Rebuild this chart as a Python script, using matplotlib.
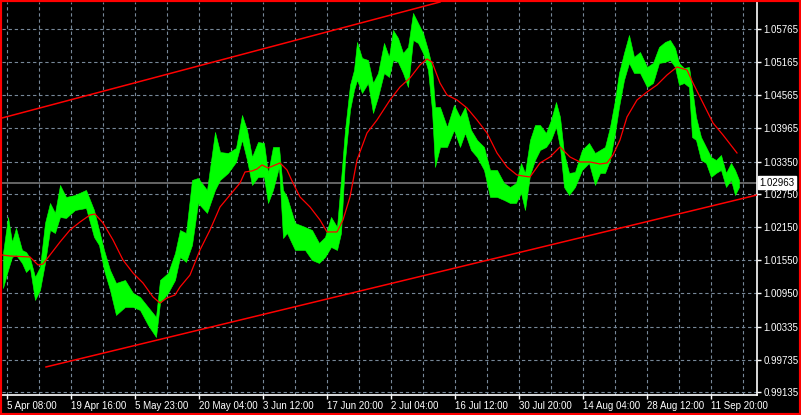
import matplotlib.pyplot as plt
from matplotlib.patches import Rectangle
from matplotlib.ticker import FixedLocator

# bar index (1 bar per pixel) with high / low prices
bars = [1, 6, 10, 14, 20, 24, 28, 33, 38, 43, 48, 53, 58, 64, 73, 84, 92, 97, 102, 108,
        114, 123, 131, 138, 146, 154, 158, 166, 173, 178, 184, 190, 196, 205, 213, 218, 226, 234, 240, 245,
        250, 256, 262, 266, 271, 277, 281, 285, 293, 303, 310, 317, 323, 329, 335, 339, 343, 348, 352, 355,
        360, 366, 371, 376, 382, 387, 391, 396, 401, 406, 411, 416, 421, 426, 430, 433, 438, 445, 452, 458,
        463, 469, 475, 482, 488, 495, 502, 508, 514, 519, 523, 528, 533, 538, 544, 549, 554, 558, 562, 567,
        573, 580, 587, 593, 598, 603, 608, 613, 617, 622, 627, 632, 638, 645, 651, 657, 663, 668, 673, 677,
        682, 687, 690, 694, 699, 704, 709, 714, 719, 724, 729, 733, 737]
highs = [1.01680, 1.02338, 1.01881, 1.02137, 1.01735, 1.01698, 1.01589, 1.01242, 1.01425, 1.02228,
         1.02593, 1.02411, 1.02922, 1.02703, 1.02739, 1.02831, 1.02465, 1.02100, 1.01735, 1.01370,
         1.01132, 1.01187, 1.00950, 1.00877, 1.00694, 1.00512, 1.01187, 1.01315, 1.01680, 1.02100,
         1.02045, 1.03013, 1.03050, 1.02831, 1.03890, 1.03524, 1.03506, 1.03598, 1.04200, 1.03926,
         1.03433, 1.03707, 1.03689, 1.03141, 1.03616, 1.03616, 1.02831, 1.02703, 1.02228, 1.02155,
         1.02100, 1.01863, 1.01972, 1.02338, 1.02155, 1.03013, 1.03926, 1.04748, 1.05022, 1.05533,
         1.05241, 1.05204, 1.04784, 1.04967, 1.05515, 1.05259, 1.05752, 1.05606, 1.05332, 1.05442,
         1.06063, 1.05880, 1.05697, 1.05387, 1.05077, 1.04346, 1.04346, 1.03981, 1.04383, 1.04164,
         1.04346, 1.03926, 1.03744, 1.03616, 1.03196, 1.03196, 1.02958, 1.02885, 1.02958, 1.03324,
         1.03141, 1.03744, 1.04017, 1.04017, 1.03871, 1.04109, 1.04437, 1.04164, 1.03506, 1.03141,
         1.03159, 1.03561, 1.03689, 1.03506, 1.03561, 1.03616, 1.03981, 1.04474, 1.04967, 1.05332,
         1.05661, 1.05259, 1.05350, 1.05077, 1.05150, 1.05442, 1.05533, 1.05570, 1.05424, 1.05150,
         1.05058, 1.05077, 1.04711, 1.04164, 1.03798, 1.03616, 1.03433, 1.03378, 1.03470, 1.03141,
         1.03324, 1.03196, 1.03013]
lows = [1.01041, 1.01370, 1.01607, 1.01644, 1.01498, 1.01333, 1.01406, 1.00822, 1.01005, 1.01498,
        1.02100, 1.02045, 1.02338, 1.02319, 1.02465, 1.02502, 1.01972, 1.01826, 1.01370, 1.01005,
        1.00548, 1.00694, 1.00694, 1.00639, 1.00365, 1.00146, 1.00767, 1.00950, 1.01187, 1.01607,
        1.01516, 1.01826, 1.02593, 1.02411, 1.02831, 1.03013, 1.03141, 1.03342, 1.03744, 1.03378,
        1.02922, 1.03068, 1.03068, 1.02593, 1.02831, 1.03251, 1.01954, 1.02045, 1.01735, 1.01735,
        1.01552, 1.01498, 1.01607, 1.01790, 1.01735, 1.02045, 1.03378, 1.04291, 1.04657, 1.04839,
        1.04602, 1.04784, 1.04237, 1.04529, 1.04967, 1.04894, 1.05204, 1.05168, 1.04967, 1.04711,
        1.05570, 1.05515, 1.05332, 1.05022, 1.04291, 1.03251, 1.03616, 1.03616, 1.03926, 1.03616,
        1.03871, 1.03561, 1.03433, 1.03196, 1.02703, 1.02703, 1.02648, 1.02593, 1.02593, 1.02776,
        1.02465, 1.03104, 1.03378, 1.03561, 1.03616, 1.03744, 1.03981, 1.03616, 1.02885, 1.02739,
        1.02885, 1.03196, 1.03324, 1.02922, 1.03141, 1.03141, 1.03378, 1.03871, 1.04346, 1.04839,
        1.05150, 1.04967, 1.04967, 1.04711, 1.04784, 1.05150, 1.05168, 1.05204, 1.05077, 1.04748,
        1.04784, 1.04711, 1.03798, 1.03744, 1.03378, 1.03324, 1.03068, 1.03141, 1.03196, 1.02885,
        1.03013, 1.02739, 1.02885]

# moving average (red)
ma_bars = [0, 8, 28, 36, 41, 48, 58, 68, 78, 88, 93, 101, 111, 121, 131, 141, 151, 158, 165, 173,
           178, 188, 198, 208, 218, 228, 238, 243, 250, 255, 260, 266, 278, 285, 291, 298, 308, 318, 325, 335,
           341, 348, 355, 365, 375, 388, 398, 408, 418, 425, 430, 438, 445, 455, 465, 475, 485, 495, 505, 515,
           521, 528, 538, 548, 558, 568, 578, 588, 598, 605, 611, 618, 625, 635, 645, 655, 665, 675, 685, 691,
           701, 711, 721, 735]
ma_vals = [1.01644, 1.01625, 1.01607, 1.01461, 1.01479, 1.01644, 1.01881, 1.02100, 1.02246, 1.02374,
           1.02392, 1.02228, 1.01918, 1.01552, 1.01315, 1.01132, 1.00877, 1.00767, 1.00859, 1.00913,
           1.01059, 1.01278, 1.01735, 1.02100, 1.02520, 1.02739, 1.02958, 1.03159, 1.03178, 1.03214,
           1.03287, 1.03232, 1.03324, 1.03196, 1.02958, 1.02703, 1.02520, 1.02283, 1.02064, 1.02064,
           1.02283, 1.02703, 1.03378, 1.03871, 1.04109, 1.04474, 1.04711, 1.04876, 1.05113, 1.05223,
           1.05168, 1.04784, 1.04565, 1.04474, 1.04328, 1.04109, 1.03871, 1.03506, 1.03251, 1.03104,
           1.03086, 1.03068, 1.03324, 1.03433, 1.03616, 1.03433, 1.03342, 1.03342, 1.03305, 1.03324,
           1.03470, 1.03744, 1.04164, 1.04474, 1.04620, 1.04748, 1.04930, 1.05077, 1.05022, 1.04784,
           1.04419, 1.04054, 1.03835, 1.03506]

# trend channel anchors
upper_pts = [(0, 1.04145), (438, 1.06263)]
lower_pts = [(44, 0.99599), (755, 1.02739)]
bid = 1.02963

price_ticks = [1.05765, 1.05165, 1.04565, 1.03965, 1.03350, 1.02750, 1.02150,
               1.01550, 1.00950, 1.00335, 0.99735, 0.99135]
time_ticks = [5, 69, 133, 197, 261, 325, 389, 453, 517, 581, 645, 709]
time_labels = ["5 Apr 08:00", "19 Apr 16:00", "5 May 23:00", "20 May 04:00", "3 Jun 12:00",
               "17 Jun 20:00", "2 Jul 04:00", "16 Jul 12:00", "30 Jul 20:00", "14 Aug 04:00",
               "28 Aug 12:00", "11 Sep 20:00"]

plt.rcParams['font.family'] = ['Liberation Sans', 'DejaVu Sans']

fig = plt.figure(figsize=(8.01, 4.15), dpi=100, facecolor='black')
ax = fig.add_axes([2 / 801, 20 / 415, 755 / 801, 393 / 415])
ax.set_facecolor('black')

ax.set_xlim(0, 755)
ax.set_ylim(0.99087, 1.06263)

# grid
ax.xaxis.set_major_locator(FixedLocator(time_ticks))
ax.xaxis.set_minor_locator(FixedLocator([t + 32 for t in time_ticks]))
ax.set_xticks(time_ticks)
ax.set_xticklabels(time_labels)
ax.set_yticks(price_ticks)
ax.set_yticklabels(["%.5f" % p for p in price_ticks])
ax.grid(True, which='both', color='#778899', linestyle=(0, (3, 2.5)), linewidth=0.8)
ax.set_axisbelow(True)

# bid line
ax.axhline(bid, color='#808080', linewidth=1.1, zorder=2)

# price bars
ax.fill_between(bars, lows, highs, color='#00ff00', linewidth=0.4, edgecolor='#00ff00', zorder=3)

# moving average
ax.plot(ma_bars, ma_vals, color='#ff0000', linewidth=0.9, zorder=4)

# channel
ax.axline(upper_pts[0], upper_pts[1], color='#ff0000', linewidth=1.1, zorder=4)
ax.plot([lower_pts[0][0], lower_pts[1][0]], [lower_pts[0][1], lower_pts[1][1]],
        color='#ff0000', linewidth=1.1, zorder=4)

# axes styling
for s in ['top', 'left']:
    ax.spines[s].set_visible(False)
for s in ['right', 'bottom']:
    ax.spines[s].set_color('white')
    ax.spines[s].set_linewidth(1.2)
ax.yaxis.tick_right()
ax.tick_params(axis='y', colors='white', length=3, width=1, labelsize=7, pad=1.5)
ax.tick_params(axis='x', which='major', colors='white', length=3, width=1, labelsize=7, pad=1)
ax.tick_params(axis='x', which='minor', length=0)
for lab in ax.get_xticklabels():
    lab.set_horizontalalignment('left')
for lab in ax.get_yticklabels():
    lab.set_horizontalalignment('left')

# bid label
ax.text(1.003, bid, "%.5f" % bid, transform=ax.get_yaxis_transform(), color='black',
        fontsize=7, va='center', ha='left',
        bbox=dict(boxstyle='square,pad=0.15', facecolor='white', edgecolor='white'))

# red frame
fig.patches.append(Rectangle((0, 0), 1, 1, transform=fig.transFigure, fill=False,
                             edgecolor='#ff0000', linewidth=3))

fig.savefig('out.png', dpi=100, facecolor='black')
